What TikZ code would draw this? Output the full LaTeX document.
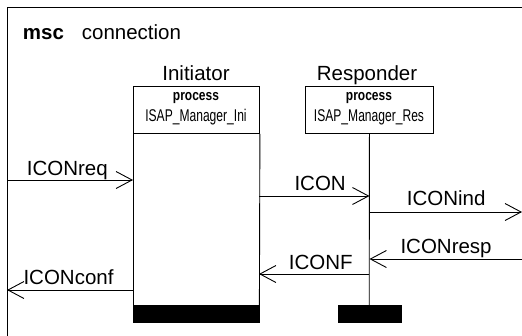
\documentclass[tikz,border=0pt]{standalone}
\usepackage{fontspec}
\usepackage{graphicx}
\setmainfont{Liberation Sans}
\usetikzlibrary{arrows.meta}
\newcommand{\bigtxt}{\fontsize{20.5}{24}\selectfont}
\newcommand{\proctxt}[1]{\scalebox{0.8}[1]{\fontsize{15}{17}\selectfont\bfseries #1}}
\newcommand{\nametxt}[1]{\scalebox{0.71}[1]{\fontsize{17}{20}\selectfont #1}}
\tikzset{
  x=1pt, y=-1pt,
  lbl/.style={anchor=base west, inner sep=0pt, font=\bigtxt},
  ctr/.style={anchor=base, inner sep=0pt},
  headbox/.style={draw, line width=0.9pt, anchor=north west, inner sep=0pt},
  endbar/.style={fill=black, draw=black, anchor=north west, inner sep=0pt},
  line/.style={line width=0.9pt},
  msg/.style={line width=0.9pt, -{Straight Barb[length=16pt, width=17pt, line width=0.9pt]}},
}
\begin{document}
\begin{tikzpicture}
\useasboundingbox (0,0) rectangle (522,335);
\clip (0,0) rectangle (522,335);
% frame
\coordinate (fTR) at (540,7);
\coordinate (fTL) at (7,7);
\coordinate (fBL) at (7,350);
\draw[line] (fTR) -- (fTL) -- (fBL);
\node[lbl, font=\bigtxt\bfseries] (msc) at (22.7,39.3) {msc};
\node[lbl] (mscname) at (81.7,39.3) {connection};

% Initiator
\node[ctr, font=\bigtxt] (ininame) at (196,80) {Initiator};
\node[headbox, minimum width=126pt, minimum height=47pt] (inihead) at (133,86) {};
\node[ctr] (iniproc) at (196,100) {\proctxt{process}};
\node[ctr] (iniid) at (196,121) {\nametxt{ISAP\_Manager\_Ini}};
\node[endbar, minimum width=126pt, minimum height=16.5pt] (iniend) at (133,305) {};
\draw[line] (inihead.south west) -- (iniend.north west);
\draw[line] (inihead.south east) -- (iniend.north east);

% Responder
\node[ctr, font=\bigtxt] (resname) at (367,80) {Responder};
\node[headbox, minimum width=128pt, minimum height=47pt] (reshead) at (305,86) {};
\node[ctr] (resproc) at (369,100) {\proctxt{process}};
\node[ctr] (resid) at (369,121) {\nametxt{ISAP\_Manager\_Res}};
\node[endbar, minimum width=63pt, minimum height=16.5pt] (resend) at (337.5,305) {};
\draw[line] (reshead.south) -- (resend.north);

% message points
\coordinate (envL1) at (7,180);
\coordinate (ini1) at (133,180);
\coordinate (ini2) at (259,196);
\coordinate (res2) at (reshead.south |- 0,196);
\coordinate (res3) at (reshead.south |- 0,212);
\coordinate (envR3) at (522,212);
\coordinate (envR4) at (522,259);
\coordinate (res4) at (reshead.south |- 0,259);
\coordinate (res5) at (reshead.south |- 0,274);
\coordinate (ini5) at (259,274);
\coordinate (ini6) at (133,290);
\coordinate (envL6) at (7,290);

\draw[msg] (envL1) -- (ini1);
\draw[msg] (ini2) -- (res2);
\draw[msg] (res3) -- (envR3);
\draw[msg] (envR4) -- (res4);
\draw[msg] (res5) -- (ini5);
\draw[msg] (ini6) -- (envL6);

\node[lbl] (l1) at (26.7,175) {ICONreq};
\node[lbl] (l2) at (294.3,190) {ICON};
\node[lbl] (l3) at (406.7,205.7) {ICONind};
\node[lbl] (l4) at (400.3,253) {ICONresp};
\node[lbl] (l5) at (288.7,269) {ICONF};
\node[lbl] (l6) at (23.3,284) {ICONconf};
\end{tikzpicture}
\end{document}
